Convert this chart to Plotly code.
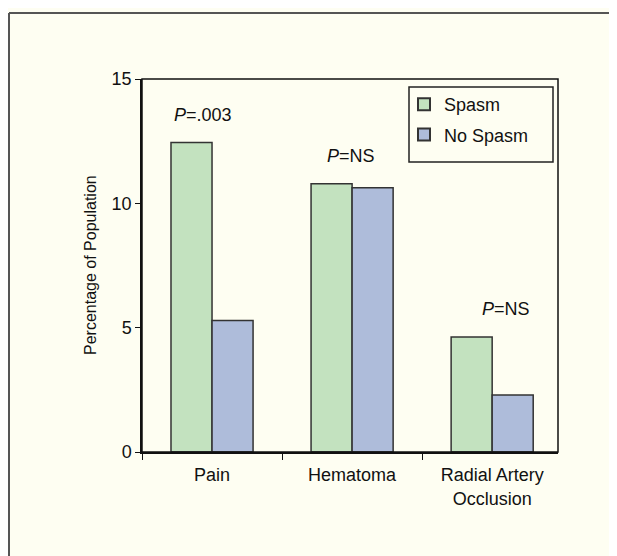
import plotly.graph_objects as go

categories = ["Pain", "Hematoma", "Radial Artery<br>Occlusion"]
spasm = [12.45, 10.79, 4.62]
no_spasm = [5.29, 10.63, 2.29]
p_labels = ["<i>P</i>=.003", "<i>P</i>=NS", "<i>P</i>=NS"]
p_x = [-0.065, 0.99, 2.1]
p_y = [13.55, 11.92, 5.75]
y_ticks = [0, 5, 10, 15]

BG = "#FEFEF2"
FONT = "Liberation Sans"
OFF = 8  # page body margin
W, H = 617 - OFF, 556 - OFF
# plot area in page pixels: x 142..558, y 79..452
L = 142 - OFF
T = 79 - OFF
R = W - (558 - OFF)
B = H - (452 - OFF)
pw, ph = W - L - R, H - T - B

def px_x(p):
    return (p - OFF - L) / pw

def px_y(p):
    return (H - B - (p - OFF)) / ph

fig = go.Figure()
fig.add_trace(go.Bar(x=categories, y=spasm, name="Spasm", legendgroup="a",
                     marker=dict(color="#C3E2BF", line=dict(color="#333333", width=1.5))))
fig.add_trace(go.Bar(x=categories, y=no_spasm, name="No Spasm", legendgroup="b",
                     marker=dict(color="#AEBCDA", line=dict(color="#333333", width=1.5))))

for x, y, t in zip(p_x, p_y, p_labels):
    fig.add_annotation(x=x, y=y, text=t, showarrow=False, xref="x", yref="y",
                       font=dict(family=FONT, size=18, color="#111"))

fig.add_annotation(x=px_x(90), y=px_y(265), xref="paper", yref="paper",
                   xanchor="center", yanchor="middle", text="Percentage of Population",
                   textangle=-90, showarrow=False, font=dict(family=FONT, size=16, color="#111"))

# plot frame (top/right)
fig.add_shape(type="rect", xref="paper", yref="paper", x0=0, y0=0, x1=1, y1=1,
              line=dict(color="#111", width=1.5), layer="above")
# legend box
fig.add_shape(type="rect", xref="paper", yref="paper", x0=px_x(409), x1=px_x(553),
              y0=px_y(162), y1=px_y(87), line=dict(color="#222", width=1.5), fillcolor=BG, layer="below")
# outer border: left and top edges only (the rest runs off the page)
fig.add_shape(type="line", xref="paper", yref="paper", x0=px_x(9), x1=px_x(9),
              y0=px_y(560), y1=px_y(13), line=dict(color="#555", width=2))
fig.add_shape(type="line", xref="paper", yref="paper", x0=px_x(9), x1=px_x(620),
              y0=px_y(13), y1=px_y(13), line=dict(color="#555", width=2))

fig.update_layout(
    width=W, height=H,
    margin=dict(l=L, r=R, t=T, b=B),
    paper_bgcolor=BG, plot_bgcolor=BG,
    barmode="group", bargap=0.414, bargroupgap=0,
    font=dict(family=FONT, size=18, color="#111"),
    showlegend=True,
    legend=dict(x=px_x(404), y=px_y(86), xanchor="left", yanchor="top",
                bgcolor="rgba(0,0,0,0)", borderwidth=0, traceorder="grouped",
                font=dict(family=FONT, size=18, color="#111"),
                tracegroupgap=4, itemsizing="constant", itemwidth=30),
    xaxis=dict(type="category", range=[-0.5, 2.47], tickson="boundaries",
               ticks="outside", ticklen=6, tickcolor="#111", showline=True,
               linecolor="#111", linewidth=1.5, showgrid=False, zeroline=False,
               ticklabelstandoff=6, tickfont=dict(family=FONT, size=18)),
    yaxis=dict(range=[0, 15], tickvals=y_ticks, ticks="outside", ticklen=5,
               tickcolor="#111", showline=True, linecolor="#111", linewidth=1.5,
               showgrid=False, zeroline=False, tickfont=dict(family=FONT, size=18)),
)

fig.write_html("out.html")
